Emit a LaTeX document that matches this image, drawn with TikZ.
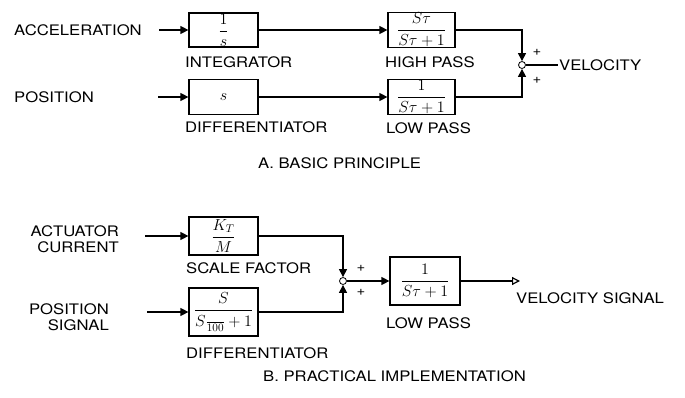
\documentclass[tikz,border=0pt]{standalone}
\usepackage{amsmath}
\usepackage{fix-cm}
\usepackage{fontspec}
\setmainfont[FakeStretch=1.15]{TeX Gyre Heros}
\usetikzlibrary{arrows.meta}

\begin{document}
\begin{tikzpicture}[
                x=1pt, y=-1pt,
                every node/.style={inner sep=1pt},
                block/.style={draw, line width=1.2pt, minimum width=69pt, inner sep=0pt,
                    font=\fontsize{16}{17}\selectfont},
                lbl/.style={anchor=west, font=\fontsize{14.5}{15.5}\selectfont},
                sig/.style={line width=1.2pt, -{Triangle[length=8pt, width=8pt]}},
                sumpt/.style={draw, circle, line width=0.8pt, minimum size=7pt, inner sep=0pt},
                plus/.style={font=\fontsize{13}{13}\selectfont}
            ]
            \useasboundingbox (0, 0) rectangle (685, 398);

            % A. basic principle
            \node[lbl] (acc) at (13, 30) {ACCELERATION};
            \node[lbl] (pos) at (13, 97) {POSITION};
            \coordinate (accin) at (159, 30);
            \coordinate (posin) at (158, 97);

            \node[block, minimum height=34pt] (integ) at (223.5, 30) {$\dfrac{1}{s}$};
            \node[block, minimum height=35pt] (diffa) at (223.5, 97) {$s$};
            \node[block, minimum height=35pt, minimum width=67pt] (hpass) at (421.5, 30) {$\dfrac{S\tau}{S\tau+1}$};
            \node[block, minimum height=35pt, minimum width=67pt] (lpassa) at (421.5, 97) {$\dfrac{1}{S\tau+1}$};

            \node[lbl] (integlbl) at (184, 62) {INTEGRATOR};
            \node[lbl] (diffalbl) at (184, 127) {DIFFERENTIATOR};
            \node[lbl] (hpasslbl) at (384, 62) {HIGH PASS};
            \node[lbl] (lpassalbl) at (385, 128) {LOW PASS};

            \node[sumpt] (suma) at (522, 65) {};
            \node[plus] (suma1) at (537, 52) {+};
            \node[plus] (suma2) at (537, 80) {+};
            \node[lbl] (vel) at (558, 65) {VELOCITY};

            \draw[sig] (accin) -- (integ);
            \draw[sig] (posin) -- (diffa);
            \draw[sig] (integ) -- (hpass);
            \draw[sig] (diffa) -- (lpassa);
            \draw[sig] (hpass.east) -| (suma.north);
            \draw[sig] (lpassa.east) -| (suma.south);
            \draw[line width=1.2pt] (suma.east) -- (vel.west);

            \node[lbl] (titlea) at (257, 163) {A. BASIC PRINCIPLE};

            % B. practical implementation
            \node[lbl, anchor=east, align=right] (cur) at (120, 239) {ACTUATOR\\CURRENT};
            \node[lbl, anchor=east, align=right] (possig) at (110, 317) {POSITION\\SIGNAL};
            \coordinate (curin) at (145, 236);
            \coordinate (possigin) at (147, 312);

            \node[block, minimum height=38pt] (scale) at (223.5, 236) {$\dfrac{K_T}{M}$};
            \node[block, minimum height=48pt] (diffb) at (223.5, 312) {$\dfrac{S}{S\frac{\phantom{0}}{100}+1}$};
            \node[block, minimum height=48pt, minimum width=70pt] (lpassb) at (425, 281) {$\dfrac{1}{S\tau+1}$};

            \node[lbl] (scalelbl) at (185, 268) {SCALE FACTOR};
            \node[lbl] (diffblbl) at (185, 353) {DIFFERENTIATOR};
            \node[lbl] (lpassblbl) at (385, 323) {LOW PASS};

            \node[sumpt] (sumb) at (343, 281) {};
            \node[plus] (sumb1) at (361, 268) {+};
            \node[plus] (sumb2) at (361, 292) {+};

            \coordinate (velout) at (520, 281);
            \node[lbl] (velsig) at (515, 298) {VELOCITY SIGNAL};

            \draw[sig] (curin) -- (scale);
            \draw[sig] (possigin) -- (diffb);
            \draw[sig] (scale.east) -| (sumb.north);
            \draw[sig] (diffb.east) -| (sumb.south);
            \draw[sig] (sumb) -- (lpassb);
            \draw[line width=1.2pt, -{Triangle[open, length=8pt, width=8pt]}] (lpassb) -- (velout);

            \node[lbl] (titleb) at (262, 376) {B. PRACTICAL IMPLEMENTATION};
        \end{tikzpicture}
\end{document}
